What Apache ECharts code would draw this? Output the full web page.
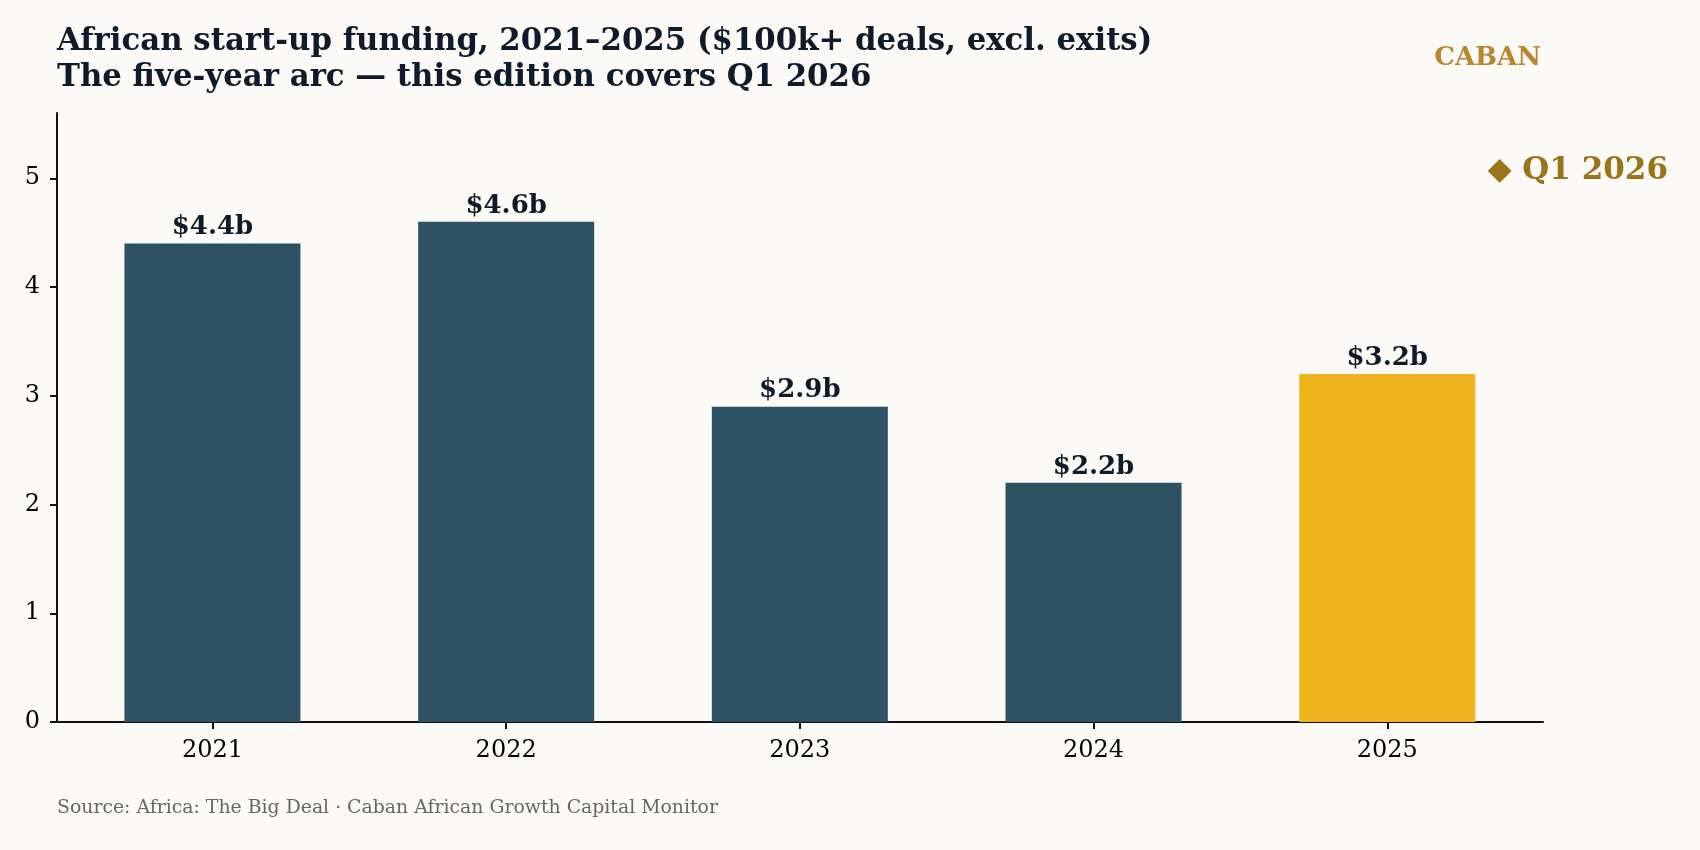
<!DOCTYPE html>
<html>
<head>
    <meta charset="utf-8">
    <title>African start-up funding</title>
    <script src="https://cdn.jsdelivr.net/npm/echarts@6/dist/echarts.min.js"></script>
    <style>
        html, body { margin: 0; padding: 0; background: #fbfaf6; }
    </style>
</head>
<body>
    <div id="main" style="width:1700px;height:850px;"></div>
    <script type="text/javascript">
        // data
        var years = ['2021', '2022', '2023', '2024', '2025'];
        var funding = [4.4, 4.6, 2.9, 2.2, 3.2];   // $bn
        var yTicks = [0, 1, 2, 3, 4, 5];
        var highlightYear = '2025';

        var serif = '"DejaVu Serif", serif';
        var ink = '#0d1b2a';

        var myChart = echarts.init(document.getElementById('main'));

        var barData = funding.map(function (v, i) {
            return {
                value: v,
                itemStyle: { color: years[i] === highlightYear ? '#f0b41f' : '#2e5164' }
            };
        });

        var option = {
            backgroundColor: '#fbfaf6',
            animation: false,
            title: {
                text: 'African start-up funding, 2021–2025 ($100k+ deals, excl. exits)\nThe five-year arc — this edition covers Q1 2026',
                left: 52,
                top: 19,
                textStyle: {
                    fontFamily: serif,
                    fontWeight: 'bold',
                    fontSize: 30.8,
                    lineHeight: 36,
                    color: ink
                }
            },
            grid: [
                // frame grid: carries the spines and the y ticks
                { left: 57, right: 157, top: 113, bottom: 128 },
                // bar grid: narrower so bars sit with matplotlib-like margins
                { left: 65.6, width: 1468.5, top: 113, bottom: 128 }
            ],
            xAxis: [
                {
                    type: 'value', gridIndex: 0, min: 0, max: 1,
                    axisLine: { show: true, lineStyle: { color: '#111', width: 2 } },
                    axisTick: { show: false },
                    axisLabel: { show: false },
                    splitLine: { show: false }
                },
                {
                    type: 'category', gridIndex: 1, data: years,
                    axisLine: { show: false },
                    axisTick: { show: true, alignWithLabel: true, length: 7, lineStyle: { color: '#111', width: 2 } },
                    axisLabel: { fontFamily: serif, fontSize: 24, color: '#000', margin: 17 },
                    splitLine: { show: false }
                }
            ],
            yAxis: [
                {
                    type: 'value', gridIndex: 0, min: 0, max: 5.6,
                    axisLine: { show: true, lineStyle: { color: '#111', width: 2 } },
                    axisTick: { show: true, length: 7, customValues: yTicks, lineStyle: { color: '#111', width: 2 } },
                    axisLabel: {
                        fontFamily: serif, fontSize: 24, color: '#000', margin: 17,
                        customValues: yTicks, padding: [6, 0, 0, 0]
                    },
                    splitLine: { show: false }
                },
                {
                    type: 'value', gridIndex: 1, min: 0, max: 5.6, show: false
                }
            ],
            series: [
                {
                    type: 'bar',
                    xAxisIndex: 1,
                    yAxisIndex: 1,
                    barWidth: 176,
                    data: barData,
                    label: {
                        show: true,
                        position: 'top',
                        distance: 3,
                        fontFamily: serif,
                        fontWeight: 'bold',
                        fontSize: 26,
                        color: ink,
                        formatter: function (p) { return '$' + p.value.toFixed(1) + 'b'; }
                    }
                }
            ],
            graphic: [
                {
                    type: 'text', right: 159, top: 45,
                    style: { text: 'CABAN', fontFamily: serif, fontWeight: 'bold', fontSize: 26, fill: '#b8862e' }
                },
                {
                    type: 'text', right: 32, top: 155,
                    style: { text: '◆ Q1 2026', fontFamily: serif, fontWeight: 'bold', fontSize: 31, fill: '#9a7419' }
                },
                {
                    type: 'text', left: 57, top: 799,
                    style: { text: 'Source: Africa: The Big Deal · Caban African Growth Capital Monitor', fontFamily: serif, fontSize: 18.85, fill: '#666666' }
                }
            ]
        };

        myChart.setOption(option);
    </script>
</body>
</html>
